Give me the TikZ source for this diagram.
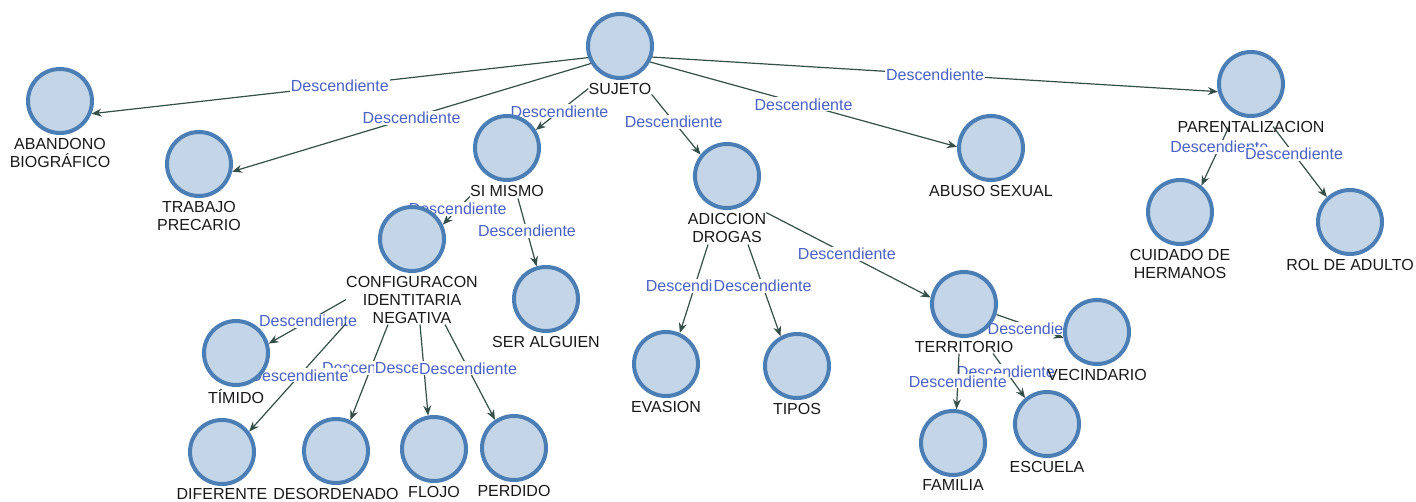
\documentclass[tikz,border=0pt]{standalone}
\usepackage{fontspec}
\setmainfont{Liberation Sans}
\usetikzlibrary{positioning, arrows.meta, backgrounds, calc}

\definecolor{nodefill}{RGB}{196,213,232}
\definecolor{nodeline}{RGB}{74,126,181}
\definecolor{edgeline}{RGB}{52,78,72}
\definecolor{edgetext}{RGB}{74,98,196}

\begin{document}
\begin{tikzpicture}[x=0.75pt, y=-0.75pt,
  % Node Styles
  cnode/.style={circle, draw=nodeline, fill=nodefill, line width=3pt, minimum size=48pt, inner sep=0pt},
  tnode/.style={align=center, inner sep=0pt, text=black!90, font=\fontsize{12}{13.5}\selectfont},
  % Arrow Styles
  descarrow/.style={-{Stealth[length=7.5pt, width=6pt]}, line width=0.9pt, edgeline},
  desclabel/.style={fill=white, inner sep=0.8pt, text=edgetext, font=\fontsize{12}{13.5}\selectfont}
]
\useasboundingbox (0,0) rectangle (1416,502);

% Top level
\node[cnode] (suj) at (620,46) {};
\node[tnode, below=2pt of suj] (sujL) {SUJETO};
\node[cnode] (aba) at (60,101) {};
\node[tnode, below=2pt of aba] (abaL) {ABANDONO\\BIOGRÁFICO};
\node[cnode] (tra) at (199,164) {};
\node[tnode, below=2pt of tra] (traL) {TRABAJO\\PRECARIO};
\node[cnode] (sim) at (507,148) {};
\node[tnode, below=2pt of sim] (simL) {SI MISMO};
\node[cnode] (adi) at (727,176) {};
\node[tnode, below=2pt of adi] (adiL) {ADICCION\\DROGAS};
\node[cnode] (abu) at (991,148) {};
\node[tnode, below=2pt of abu] (abuL) {ABUSO SEXUAL};
\node[cnode] (par) at (1251,84) {};
\node[tnode, below=2pt of par] (parL) {PARENTALIZACION};

% Second level
\node[cnode] (cui) at (1180,212) {};
\node[tnode, below=2pt of cui] (cuiL) {CUIDADO DE\\HERMANOS};
\node[cnode] (rol) at (1350,222) {};
\node[tnode, below=2pt of rol] (rolL) {ROL DE ADULTO};
\node[cnode] (cfg) at (412,239) {};
\node[tnode, below=2pt of cfg] (cfgL) {CONFIGURACON\\IDENTITARIA\\NEGATIVA};
\node[cnode] (ser) at (546,299) {};
\node[tnode, below=2pt of ser] (serL) {SER ALGUIEN};
\node[cnode] (eva) at (666,364) {};
\node[tnode, below=2pt of eva] (evaL) {EVASION};
\node[cnode] (tip) at (797,366) {};
\node[tnode, below=2pt of tip] (tipL) {TIPOS};
\node[cnode] (ter) at (964,304) {};
\node[tnode, below=2pt of ter] (terL) {TERRITORIO};

% Third level
\node[cnode] (tim) at (236,353) {};
\node[tnode, below=2pt of tim] (timL) {TÍMIDO};
\node[cnode] (dif) at (222,452) {};
\node[tnode, below=2pt of dif] (difL) {DIFERENTE};
\node[cnode] (des) at (336,451) {};
\node[tnode, below=2pt of des] (desL) {DESORDENADO};
\node[cnode] (flo) at (434,449) {};
\node[tnode, below=2pt of flo] (floL) {FLOJO};
\node[cnode] (per) at (514,448) {};
\node[tnode, below=2pt of per] (perL) {PERDIDO};
\node[cnode] (vec) at (1097,332) {};
\node[tnode, below=2pt of vec] (vecL) {VECINDARIO};
\node[cnode] (esc) at (1047,424) {};
\node[tnode, below=2pt of esc] (escL) {ESCUELA};
\node[cnode] (fam) at (953,443) {};
\node[tnode, below=2pt of fam] (famL) {FAMILIA};

% Edges
\begin{scope}[on background layer]
\draw[descarrow] (suj.200) -- node[desclabel, pos=0.5] {Descendiente} (aba.-22);
\draw[descarrow] (suj.211) -- node[desclabel, pos=0.5] {Descendiente} (tra.-13);
\draw[descarrow] (sujL.west) -- node[desclabel, pos=0.55] {Descendiente} (sim.32);
\draw[descarrow] (sujL.south east) -- node[desclabel, pos=0.45] {Descendiente} (adi.141);
\draw[descarrow] (suj.-28) -- node[desclabel, pos=0.5] {Descendiente} (abu.178);
\draw[descarrow] (suj.-19) -- node[desclabel, pos=0.5] {Descendiente} (par.193);

\draw[descarrow] (simL.south west) -- node[desclabel, pos=0.45] {Descendiente} (cfg.25);
\draw[descarrow] ($(simL.south)+(11,2)$) -- node[desclabel, pos=0.48] {Descendiente} (ser.106);

\draw[descarrow] (cfgL.west) -- node[desclabel, pos=0.49] {Descendiente} (tim.16);
\draw[descarrow] ($(cfgL.south)+(-24,1)$) -- node[desclabel, pos=0.45] {Descendiente} (des.65);
\draw[descarrow] ($(cfgL.south)+(8,1)$) -- node[desclabel, pos=0.48] {Descendiente} (flo.100);
\draw[descarrow] ($(cfgL.south)+(33,1)$) -- node[desclabel, pos=0.46] {Descendiente} (per.124);
\draw[descarrow] (cfgL.south west) -- node[desclabel, pos=0.48] {Descendiente} (dif.37);

\draw[descarrow] ($(adiL.south)+(-19,2)$) -- node[desclabel, pos=0.47] {Descendiente} (eva.66);
\draw[descarrow] ($(adiL.south)+(21,2)$) -- node[desclabel, pos=0.45] {Descendiente} (tip.119);
\draw[descarrow] (adiL.north east) -- node[desclabel, pos=0.49] {Descendiente} (ter.169);

\draw[descarrow] ($(parL.center)+(-22,0)$) -- node[desclabel, pos=0.35] {Descendiente} (cui.51);
\draw[descarrow] ($(parL.center)+(22,0)$) -- node[desclabel, pos=0.39] {Descendiente} (rol.133);

\draw[descarrow] (ter.-18) -- node[desclabel, pos=0.6] {Descendiente} (vec.190);
\draw[descarrow] ($(terL.south)+(29,1)$) -- node[desclabel, pos=0.4] {Descendiente} (esc.130);
\draw[descarrow] ($(terL.south)+(-5,1)$) -- node[desclabel, pos=0.5] {Descendiente} (fam.84);
\end{scope}

\end{tikzpicture}
\end{document}
